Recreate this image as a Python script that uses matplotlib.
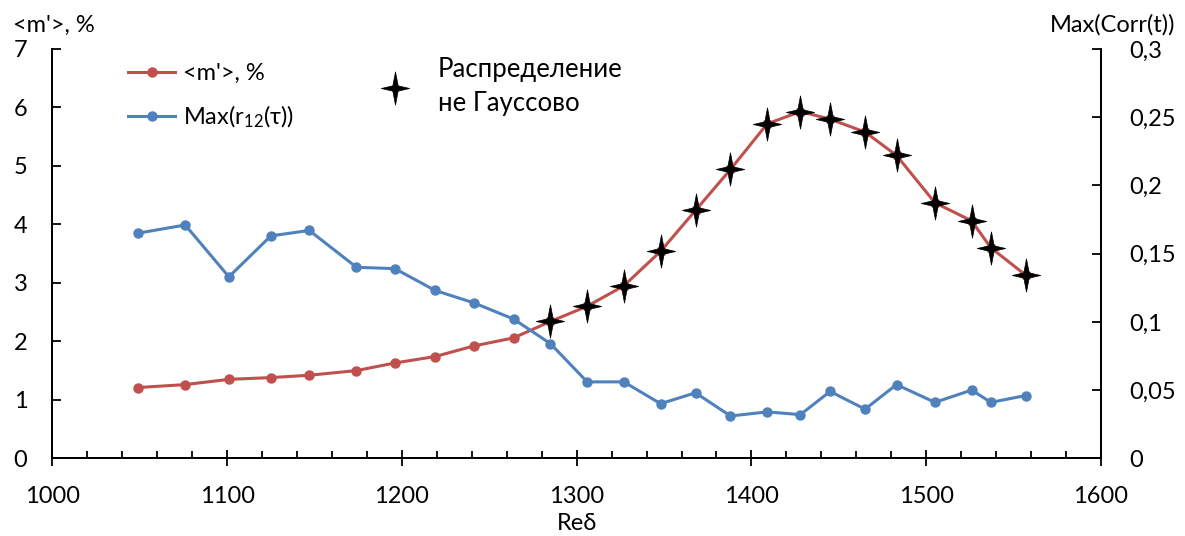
import matplotlib
matplotlib.use("Agg")
import matplotlib.pyplot as plt
from matplotlib.lines import Line2D
from matplotlib.ticker import MultipleLocator, FuncFormatter

plt.rcParams['font.family'] = ['Lato', 'DejaVu Sans']
plt.rcParams['mathtext.default'] = 'regular'

# data
re_delta = [1049, 1076, 1101, 1125, 1147, 1174, 1196, 1219, 1241, 1264, 1285, 1306, 1327,
            1348, 1368, 1388, 1409, 1428, 1445, 1465, 1483, 1505, 1526, 1537, 1557]
m_prime = [1.21, 1.26, 1.35, 1.38, 1.42, 1.50, 1.63, 1.74, 1.92, 2.06, 2.34, 2.60, 2.95,
           3.54, 4.24, 4.94, 5.72, 5.93, 5.80, 5.58, 5.18, 4.37, 4.06, 3.60, 3.13]
max_corr = [0.165, 0.171, 0.133, 0.163, 0.167, 0.140, 0.139, 0.123, 0.114, 0.102, 0.084, 0.056, 0.056,
            0.040, 0.048, 0.031, 0.034, 0.032, 0.049, 0.036, 0.054, 0.041, 0.050, 0.041, 0.046]
non_gauss_start = 10  # points from here on are marked "not Gaussian"

red = '#C0504D'
blue = '#4F81BD'
star = [(0, 1), (0.16, 0.16), (0.85, 0), (0.16, -0.16), (0, -1), (-0.16, -0.16), (-0.85, 0), (-0.16, 0.16), (0, 1)]

fig = plt.figure(figsize=(11.85, 5.36), dpi=100)
ax = fig.add_axes([0.0442, 0.145, 0.9848 - 0.0442 - 0.0557, 0.9086 - 0.145])
ax2 = ax.twinx()

ax.plot(re_delta, m_prime, color=red, lw=2.2, marker='o', ms=6.5, zorder=3)
ax.plot(re_delta[non_gauss_start:], m_prime[non_gauss_start:], ls='none', marker=star,
        ms=24, mfc='black', mec='black', mew=0.5, zorder=4)
ax2.plot(re_delta, max_corr, color=blue, lw=2.2, marker='o', ms=6.5)

ax.set_xlim(1000, 1600)
ax.set_ylim(0, 7)
ax2.set_ylim(0, 0.3)
ax.xaxis.set_major_locator(MultipleLocator(100))
ax.xaxis.set_minor_locator(MultipleLocator(20))
ax.yaxis.set_major_locator(MultipleLocator(1))
ax2.yaxis.set_major_locator(MultipleLocator(0.05))
ax2.yaxis.set_major_formatter(FuncFormatter(lambda v, p: ('%g' % round(v, 2)).replace('.', ',')))

for a in (ax, ax2):
    a.spines['top'].set_visible(False)
    a.tick_params(labelsize=17, width=1.3, color='black')
    for s in a.spines.values():
        s.set_linewidth(1.3)
ax.tick_params(axis='y', direction='in', length=6.5, pad=18)
ax.tick_params(axis='x', which='major', direction='inout', length=12, pad=14)
ax.tick_params(axis='x', which='minor', direction='in', length=4.8, width=1.3)
ax2.tick_params(axis='y', direction='in', length=6.5, pad=20)

fig.text(0.011, 1 - 25 / 536, "<m'>, %", fontsize=17, va='center', ha='left')
fig.text(0.992, 1 - 25 / 536, "Max(Corr(t))", fontsize=17, va='center', ha='right')
fig.text(577 / 1185, 1 - 523 / 536, "Reδ", fontsize=17, va='center', ha='center')

h1 = [Line2D([], [], color=red, lw=2.2, marker='o', ms=6.5),
      Line2D([], [], color=blue, lw=2.2, marker='o', ms=6.5)]
leg1 = ax.legend(h1, ["<m'>, %", "Max(r$_{12}$(τ))"], loc='upper left', frameon=False,
                 bbox_to_anchor=(128 / 1185, 1 - 63 / 536), bbox_transform=fig.transFigure,
                 borderpad=0, borderaxespad=0, handlelength=2.0, handletextpad=0.35,
                 labelspacing=0.85, fontsize=17)
ax.add_artist(leg1)
h2 = [Line2D([], [], ls='none', marker=star, ms=24, mfc='black', mec='black', mew=0.5)]
leg2 = ax.legend(h2, ["Распределение\nне Гауссово"], loc='upper left', frameon=False,
                 bbox_to_anchor=(380 / 1185, 1 - 57 / 536), bbox_transform=fig.transFigure,
                 borderpad=0, borderaxespad=0, handlelength=1.2, handletextpad=1.05, fontsize=18.5)
leg2.get_texts()[0].set_linespacing(1.45)

fig.savefig('out.png', dpi=100)
